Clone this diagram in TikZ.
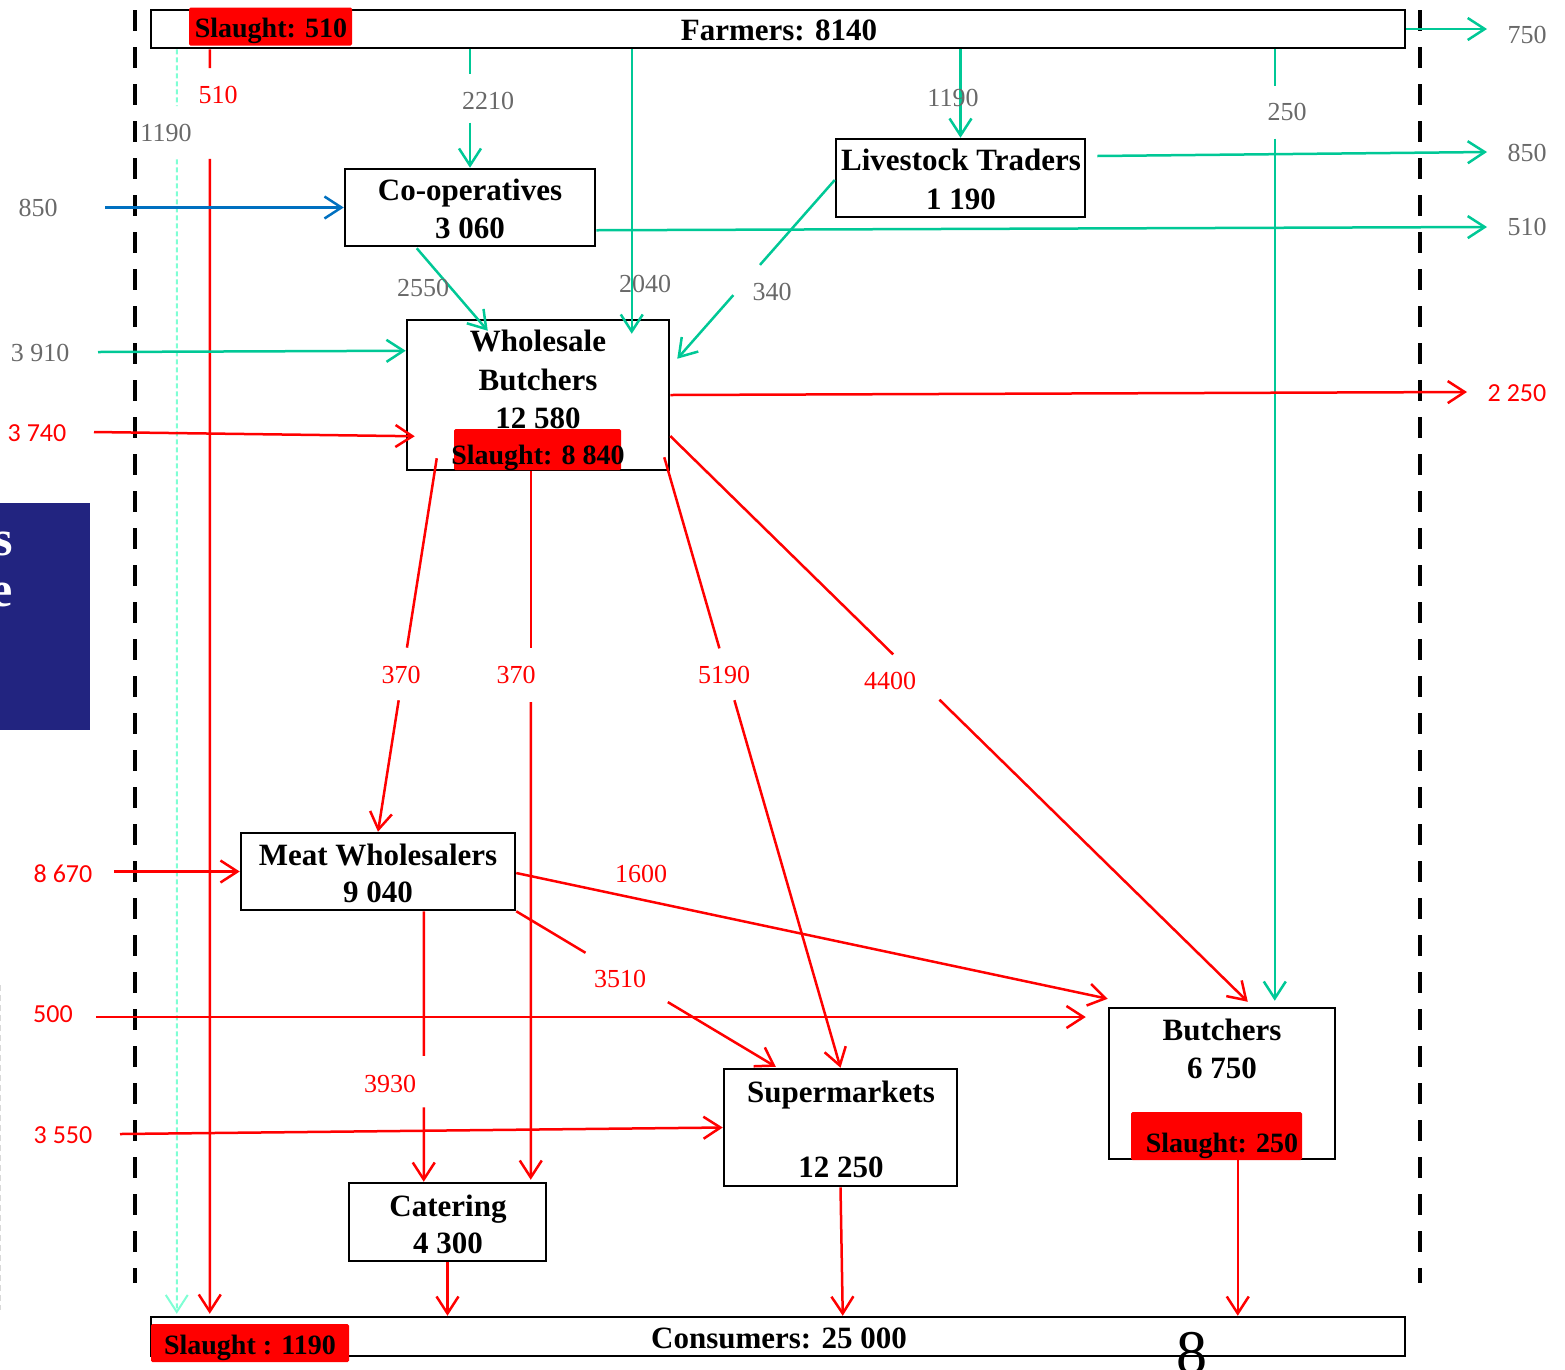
\documentclass[tikz,border=0pt]{standalone}
\usepackage{fontspec}
\setmainfont{Liberation Serif}
\newfontfamily\calibri{Carlito}
\usetikzlibrary{arrows.meta,calc}
\definecolor{grn}{RGB}{0,200,150}
\definecolor{aquam}{RGB}{127,255,212}
\definecolor{blu}{RGB}{0,112,192}
\definecolor{navyb}{RGB}{34,36,128}
\definecolor{lgray}{RGB}{105,105,105}
\tikzset{
  box/.style={draw, line width=2.5pt, fill=white, inner sep=0pt},
  redbox/.style={fill=red, rounded corners=1.5pt, inner sep=0pt},
  btxt/.style={font=\fontsize{31}{31}\selectfont\bfseries, inner sep=0pt, anchor=base, yshift=-10pt},
  stxt/.style={font=\fontsize{28}{28}\selectfont\bfseries, inner sep=0pt, anchor=base, yshift=-9.5pt},
  glab/.style={font=\fontsize{26}{26}\selectfont, text=lgray, inner sep=0pt, anchor=base, yshift=-8.5pt},
  rlab/.style={font=\fontsize{26}{26}\selectfont, text=red, inner sep=0pt, anchor=base, yshift=-8.5pt},
  clab/.style={font=\fontsize{26}{26}\selectfont\calibri, text=red, inner sep=0pt, anchor=base, yshift=-8.5pt},
  tip/.style={-{Straight Barb[length=17pt,width=22pt]}},
  gline/.style={grn, line width=2.5pt},
  rline/.style={red, line width=2.5pt},
  bline/.style={blu, line width=2.5pt},
  aline/.style={aquam, line width=2pt, dash pattern=on 5pt off 3pt},
  border/.style={black, line width=4.5pt, dash pattern=on 21pt off 16pt},
}
\begin{document}
\begin{tikzpicture}[x=1pt,y=-1pt]
\useasboundingbox (0,0) rectangle (1565,1369);

% background slide elements
\fill[navyb] (0,503) rectangle (90,730);
\node[font=\fontsize{50}{50}\selectfont\bfseries, text=white, inner sep=0pt, anchor=base east] (bs) at (13,555) {s};
\node[font=\fontsize{50}{50}\selectfont\bfseries, text=white, inner sep=0pt, anchor=base east] (be) at (13,606) {e};
\draw[gray!30, line width=1pt, dash pattern=on 6pt off 4pt] (0.5,985) -- (0.5,1310);

% dashed borders
\draw[border] (135,10) -- (135,1283);
\draw[border] (1420,10) -- (1420,1283);

% boxes
\node[box, minimum width=1254pt, minimum height=38pt] (farmers) at (778,29) {};
\node[redbox, minimum width=163pt, minimum height=38pt] (sl510) at (270.5,26.5) {};
\node[stxt] (sl510t) at (271,28) {Slaught: 510};
\node[btxt] (farmerst) at (779,30) {Farmers: 8140};

\node[box, minimum width=1254pt, minimum height=39pt] (consumers) at (778,1336.5) {};
\node[btxt] (consumerst) at (779,1338) {Consumers: 25 000};
\node[redbox, minimum width=198pt, minimum height=38pt] (sl1190) at (250,1343) {};
\node[stxt] (sl1190t) at (250,1345) {Slaught : 1190};
\node[font=\fontsize{62}{62}\selectfont, inner sep=0pt, anchor=base] (eight) at (1192,1373) {8};

\node[box, minimum width=250pt, minimum height=77pt] (coop) at (470,207.5) {};
\node[btxt] (coopt1) at (470,190) {Co-operatives};
\node[btxt] (coopt2) at (470,228) {3 060};

\node[box, minimum width=249pt, minimum height=78pt] (livestock) at (960.5,178) {};
\node[btxt] (livet1) at (961,160) {Livestock Traders};
\node[btxt] (livet2) at (961,199) {1 190};

\node[box, minimum width=262pt, minimum height=150pt] (whole) at (538,395) {};
\node[btxt] (wholet1) at (538,341) {Wholesale};
\node[btxt] (wholet2) at (538,380) {Butchers};
\node[btxt] (wholet3) at (538,418) {12 580};
\node[redbox, minimum width=167pt, minimum height=41pt] (sl8840) at (537.5,449.5) {};
\node[stxt] (sl8840t) at (538,455) {Slaught: 8 840};

\node[box, minimum width=274pt, minimum height=77pt] (meat) at (378,871.5) {};
\node[btxt] (meatt1) at (378,855) {Meat Wholesalers};
\node[btxt] (meatt2) at (378,892) {9 040};

\node[box, minimum width=226pt, minimum height=151pt] (butch) at (1222,1083.5) {};
\node[btxt] (butcht1) at (1222,1030) {Butchers};
\node[btxt] (butcht2) at (1222,1068) {6 750};
\node[redbox, minimum width=171pt, minimum height=48pt] (sl250) at (1216.5,1136) {};
\node[stxt] (sl250t) at (1222,1143) {Slaught: 250};

\node[box, minimum width=233pt, minimum height=117pt] (super) at (840.5,1127.5) {};
\node[btxt] (supert1) at (841,1092) {Supermarkets};
\node[btxt] (supert2) at (841,1167) {12 250};

\node[box, minimum width=197pt, minimum height=78pt] (cater) at (447.5,1222) {};
\node[btxt] (catert1) at (448,1206) {Catering};
\node[btxt] (catert2) at (448,1243) {4 300};

% free ends
\coordinate (o750) at (1487,29);
\coordinate (o850) at (1487,152);
\coordinate (o510) at (1487,227);
\coordinate (i850) at (105,207.5);
\coordinate (i3910) at (98,352);
\coordinate (o2250) at (1467,392);
\coordinate (i3740) at (94,432);
\coordinate (i8670) at (114,871.5);
\coordinate (i500) at (96,1017);
\coordinate (i3550) at (120,1134);

% aqua dashed 1190
\coordinate (aqA) at ($(farmers.south west)+(27,0)$);
\coordinate (aqB) at ($(consumers.north west)+(27,-2)$);
\draw[aline] (aqA) -- ($(aqA)!0.045!(aqB)$);
\draw[aline, tip] ($(aqA)!0.087!(aqB)$) -- (aqB);
% red 510
\coordinate (r1A) at ($(farmers.south west)+(60,0)$);
\coordinate (r1B) at ($(consumers.north west)+(60,-2)$);
\draw[rline] (r1A) -- ($(r1A)!0.015!(r1B)$);
\draw[rline, tip] ($(r1A)!0.0867!(r1B)$) -- (r1B);

% green connectors
\draw[gline, tip] (farmers.east) -- (o750);
\coordinate (g2A) at (farmers.south -| coop.north);
\draw[gline] (g2A) -- ($(g2A)!0.207!(coop.north)$);
\draw[gline, tip] ($(g2A)!0.62!(coop.north)$) -- (coop.north);
\draw[gline, tip] ($(farmers.south west)+(482,0)$) -- ($(whole.north west)+(226,15)$);
\draw[gline, tip] (farmers.south -| livestock.north) -- (livestock.north);
\coordinate (g5A) at ($(farmers.south west)+(1125,0)$);
\coordinate (g5B) at ($(butch.north west)+(167,-6)$);
\draw[gline] (g5A) -- ($(g5A)!0.039!(g5B)$);
\draw[gline, tip] ($(g5A)!0.094!(g5B)$) -- (g5B);
\draw[gline, tip] ($(livestock.east)+(11,-22)$) -- (o850);
\draw[gline, tip] ($(coop.south east)+(0,-17)$) -- (o510);
\coordinate (g8A) at ($(livestock.west)+(0,2)$);
\coordinate (g8B) at ($(whole.north east)+(7,40)$);
\draw[gline] (g8A) -- ($(g8A)!0.475!(g8B)$);
\draw[gline, tip] ($(g8A)!0.644!(g8B)$) -- (g8B);
\draw[gline, tip] ($(coop.south west)+(73,1)$) -- ($(whole.north west)+(82,12)$);
\draw[gline, tip] (i3910) -- ($(whole.north west)+(0,32)$);
\draw[bline, tip] (i850) -- (coop.west);

% red connectors
\draw[rline, tip] (whole.east) -- (o2250);
\draw[rline, tip] (i3740) -- ($(whole.south west)+(9,-35)$);
\coordinate (r4A) at ($(whole.south west)+(31,-13)$);
\draw[rline] (r4A) -- ($(r4A)!0.507!(meat.north)$);
\draw[rline, tip] ($(r4A)!0.648!(meat.north)$) -- (meat.north);
\coordinate (r5A) at ($(whole.south west)+(125,0)$);
\coordinate (r5B) at ($(cater.north west)+(183,-2)$);
\draw[rline] (r5A) -- ($(r5A)!0.25!(r5B)$);
\draw[rline, tip] ($(r5A)!0.326!(r5B)$) -- (r5B);
\coordinate (r6A) at ($(whole.south east)+(-6,-14)$);
\draw[rline] (r6A) -- ($(r6A)!0.313!(super.north)$);
\draw[rline, tip] ($(r6A)!0.398!(super.north)$) -- (super.north);
\coordinate (r7A) at ($(whole.east)+(0,41)$);
\coordinate (r7B) at ($(butch.north west)+(140,-5)$);
\draw[rline] (r7A) -- ($(r7A)!0.386!(r7B)$);
\draw[rline, tip] ($(r7A)!0.466!(r7B)$) -- (r7B);
\draw[rline, tip] ($(meat.east)+(0,1.5)$) -- ($(butch.north west)+(0,-8)$);
\coordinate (r9B) at ($(super.north west)+(53,-1)$);
\draw[rline] (meat.south east) -- ($(meat.south east)!0.267!(r9B)$);
\draw[rline, tip] ($(meat.south east)!0.584!(r9B)$) -- (r9B);
\coordinate (r10A) at ($(meat.south west)+(184,0)$);
\coordinate (r10B) at ($(cater.north west)+(76,0)$);
\draw[rline] (r10A) -- ($(r10A)!0.535!(r10B)$);
\draw[rline, tip] ($(r10A)!0.725!(r10B)$) -- (r10B);
\draw[rline, tip] (i500) -- ($(butch.west)+(-22,-66.5)$);
\draw[rline, tip] (i8670) -- (meat.west);
\draw[rline, tip] (i3550) -- (super.west);
\draw[rline, tip] (cater.south) -- (consumers.north -| cater.south);
\draw[rline, tip] (super.south) -- ($(consumers.north west)+(693,0)$);
\draw[rline, tip] ($(butch.south west)+(130,0)$) -- ($(consumers.north west)+(1088,0)$);

% labels
\node[glab] (l750) at (1527,35) {750};
\node[glab] (l850o) at (1527,153) {850};
\node[glab] (l510o) at (1527,227) {510};
\node[glab] (l2210) at (488,101) {2210};
\node[glab] (l2040) at (645,284) {2040};
\node[glab] (l1190b) at (953,98) {1190};
\node[glab] (l250) at (1287,112) {250};
\node[glab] (l340) at (772,292) {340};
\node[glab] (l2550) at (423,288) {2550};
\node[glab] (l3910) at (40,353) {3 910};
\node[glab] (l850i) at (38,208) {850};
\node[glab] (l1190a) at (166,133) {1190};
\node[rlab] (l510r) at (218,95) {510};
\node[rlab] (l370a) at (401,675) {370};
\node[rlab] (l370b) at (516,675) {370};
\node[rlab] (l5190) at (724,675) {5190};
\node[rlab] (l4400) at (890,681) {4400};
\node[rlab] (l1600) at (641,874) {1600};
\node[rlab] (l3510) at (620,979) {3510};
\node[rlab] (l3930) at (390,1084) {3930};
\node[clab] (l2250) at (1517,393) {2 250};
\node[clab] (l3740) at (37,433) {3 740};
\node[clab] (l8670) at (63,874) {8 670};
\node[clab] (l500) at (53,1014) {500};
\node[clab] (l3550) at (63,1135) {3 550};
\end{tikzpicture}
\end{document}
